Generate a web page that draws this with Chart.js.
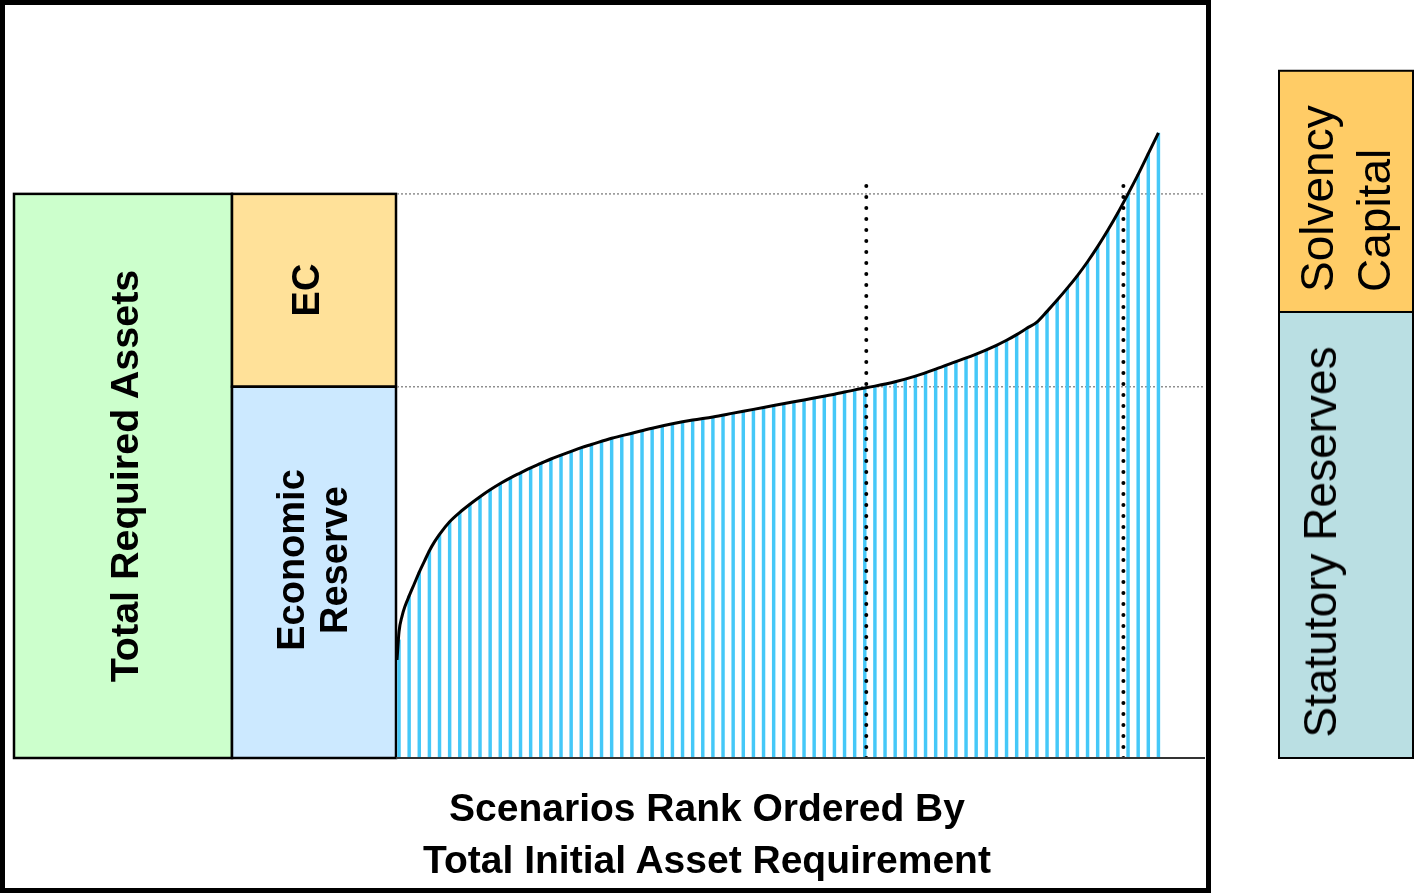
<!DOCTYPE html>
<html>
<head>
<meta charset="utf-8">
<script src="https://cdn.jsdelivr.net/npm/chart.js@4"></script>
<style>
  html,body{margin:0;padding:0;background:#fff;}
  #wrap{position:relative;width:1416px;height:894px;overflow:hidden;}
  canvas{position:absolute;left:0;top:0;}
  .frame{position:absolute;left:0;top:0;width:1211px;height:893px;border:5px solid #000;box-sizing:border-box;}
  .c{position:absolute;transform:translate(-50%,-50%) rotate(-90deg);white-space:pre;text-align:center;color:#000;}
  .s{position:absolute;transform-origin:0 0;transform:rotate(-90deg);white-space:pre;text-align:left;color:#000;}
  .b{font-family:"Liberation Sans",Arial,sans-serif;font-weight:bold;font-size:38px;}
  .n{font-family:"Liberation Sans",Arial,sans-serif;font-weight:normal;font-size:46px;}
  .xt{position:absolute;left:707px;top:834px;transform:translate(-50%,-50%);white-space:pre;text-align:center;
      font-family:"Liberation Sans",Arial,sans-serif;font-weight:bold;font-size:39px;line-height:52px;color:#000;}
</style>
</head>
<body>
<div id="wrap">
  <canvas id="c" width="1416" height="894"></canvas>
  <div class="frame"></div>
  <div class="c b" style="left:124px;top:476px;line-height:44px;font-size:39.5px;">Total Required Assets</div>
  <div class="c b" style="left:306px;top:290px;line-height:44px;">EC</div>
  <div class="c b" style="left:313px;top:560px;line-height:43px;">Economic
Reserve</div>
  <div class="s n" style="left:1289px;top:292px;line-height:57px;">Solvency
Capital</div>
  <div class="c n" style="left:1320px;top:542px;line-height:50px;">Statutory Reserves</div>
  <div class="xt">Scenarios Rank Ordered By
Total Initial Asset Requirement</div>
</div>
<script>
// ---- data (arbitrary asset units; scenarios ranked 1..76) ----
const scenarioRank = [1,2,3,4,5,6,7,8,9,10,11,12,13,14,15,16,17,18,19,20,21,22,23,24,25,26,27,28,29,30,31,32,33,34,35,36,37,38,39,40,41,42,43,44,45,46,47,48,49,50,51,52,53,54,55,56,57,58,59,60,61,62,63,64,65,66,67,68,69,70,71,72,73,74,75,76];
const scenarioAssets = [18.8,25.8,29.6,33.0,35.6,37.6,39.1,40.4,41.6,42.7,43.7,44.6,45.4,46.2,46.9,47.6,48.2,48.8,49.4,49.9,50.4,50.9,51.3,51.7,52.1,52.5,52.9,53.2,53.5,53.8,54.0,54.3,54.6,54.9,55.2,55.5,55.8,56.1,56.4,56.7,57.0,57.3,57.6,57.9,58.3,58.6,58.9,59.2,59.5,59.9,60.3,60.8,61.3,61.9,62.5,63.1,63.7,64.3,65.0,65.7,66.5,67.4,68.4,69.4,71.1,72.9,74.8,76.8,79.0,81.4,84.0,86.8,89.8,92.9,96.2,99.5];
const curveRank = [0.8,1.0,1.3,1.6,2,2.5,3,3.5,4,4.5,5,6,7,8,9,10,11,12,13,14,15,16,17,18,19,20,22,24,26,28,30,32,34,36,38,40,42,44,46,48,50,52,54,56,58,60,61,62,63,64,65,66,67,68,69,70,71,72,73,74,75,76];
const curveAssets = [15.6,20.1,22.6,24.2,25.8,27.7,29.6,31.3,33.0,34.4,35.6,37.6,39.1,40.4,41.6,42.7,43.7,44.6,45.4,46.2,46.9,47.6,48.2,48.8,49.4,49.9,50.9,51.7,52.5,53.2,53.8,54.3,54.9,55.5,56.1,56.7,57.3,57.9,58.6,59.2,59.9,60.8,61.9,63.1,64.3,65.7,66.5,67.4,68.4,69.4,71.1,72.9,74.8,76.8,79.0,81.4,84.0,86.8,89.8,92.9,96.2,99.5];
const requiredLevel = 89.8;      // total required assets (economic reserve + EC)
const reserveLevel = 59.1;       // economic reserve
const statutoryLevels = [0, 71.0, 109.4]; // statutory reserves top, solvency capital top
const percentileRanks = [47.15, 72.54];
const percentileTops = [91.2, 92.4];
const rankRange = [0.8, 80.6];

const boxPlugin = {
  id: 'boxes',
  beforeDatasetsDraw(chart) {
    const {ctx, scales: {y}} = chart;
    const y0 = y.getPixelForValue(0);
    const yReq = y.getPixelForValue(requiredLevel);
    const yRes = y.getPixelForValue(reserveLevel);
    ctx.save();
    ctx.lineWidth = 2.5;
    ctx.strokeStyle = '#000';
    const box = (x1, y1, x2, y2, fill) => {
      ctx.fillStyle = fill;
      ctx.fillRect(x1, y1, x2 - x1, y2 - y1);
      ctx.strokeRect(x1, y1, x2 - x1, y2 - y1);
    };
    box(14, yReq, 232, y0, '#CCFFCC');
    box(232, yReq, 396, yRes, '#FFE199');
    box(232, yRes, 396, y0, '#CCE9FF');
    ctx.lineWidth = 2;
    box(1279, y.getPixelForValue(statutoryLevels[2]), 1413, y.getPixelForValue(statutoryLevels[1]), '#FFCC66');
    box(1279, y.getPixelForValue(statutoryLevels[1]), 1413, y.getPixelForValue(statutoryLevels[0]), '#BADFE3');
    ctx.restore();
  },
  afterDatasetsDraw(chart) {
    const {ctx, scales: {y}, chartArea} = chart;
    const y0 = y.getPixelForValue(0);
    ctx.save();
    ctx.strokeStyle = '#333';
    ctx.lineWidth = 2;
    ctx.beginPath();
    ctx.moveTo(396, y0);
    ctx.lineTo(chartArea.right, y0);
    ctx.stroke();
    ctx.restore();
  }
};

const hLine = (v) => [{x: rankRange[0], y: v}, {x: rankRange[1], y: v}];
const vLine = (i) => [{x: percentileRanks[i], y: 0}, {x: percentileRanks[i], y: percentileTops[i]}];

new Chart(document.getElementById('c'), {
  type: 'bar',
  data: {
    datasets: [
      { type: 'line', data: hLine(requiredLevel), borderColor: '#8f8f8f', borderWidth: 1.5, borderDash: [2, 2], pointRadius: 0, order: 5 },
      { type: 'line', data: hLine(reserveLevel), borderColor: '#8f8f8f', borderWidth: 1.5, borderDash: [2, 2], pointRadius: 0, order: 5 },
      { type: 'bar', data: scenarioRank.map((r, i) => ({x: r, y: scenarioAssets[i]})),
        backgroundColor: '#45c8f8', barThickness: 2.8, order: 3 },
      { type: 'line', data: curveRank.map((r, i) => ({x: r, y: curveAssets[i]})),
        borderColor: '#000', borderWidth: 3, pointRadius: 0, cubicInterpolationMode: 'monotone', order: 2, clip: false },
      { type: 'line', data: vLine(0), borderColor: '#000', borderWidth: 4, borderDash: [0, 11], borderCapStyle: 'round', pointRadius: 0, order: 1 },
      { type: 'line', data: vLine(1), borderColor: '#000', borderWidth: 4, borderDash: [0, 11], borderCapStyle: 'round', pointRadius: 0, order: 1 }
    ]
  },
  options: {
    responsive: false,
    animation: false,
    devicePixelRatio: 1,
    layout: { padding: { left: 397, right: 211, top: 67, bottom: 136 } },
    plugins: { legend: { display: false }, tooltip: { enabled: false } },
    scales: {
      x: { type: 'linear', min: rankRange[0], max: rankRange[1], offset: false, display: false },
      y: { type: 'linear', min: 0, max: 110, display: false }
    }
  },
  plugins: [boxPlugin]
});
</script>
</body>
</html>
